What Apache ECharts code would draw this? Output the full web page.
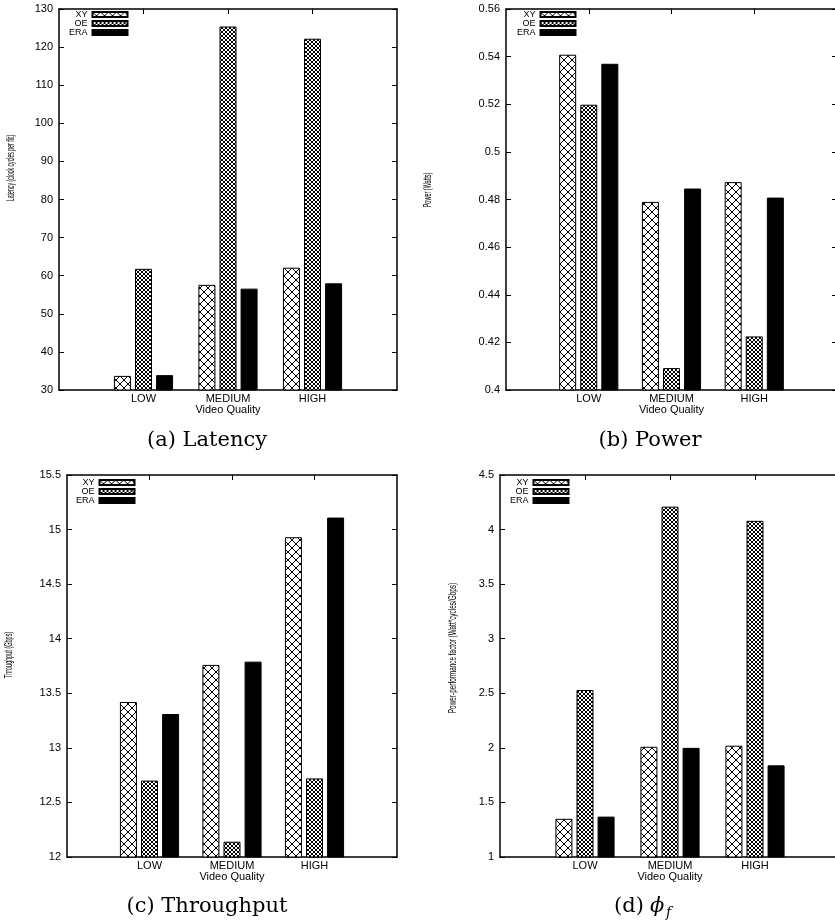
<!DOCTYPE html>
<html>
<head>
<meta charset="utf-8">
<title>Routing comparison by video quality</title>
<script src="https://cdn.jsdelivr.net/npm/echarts/dist/echarts.min.js"></script>
<style>
    html, body {margin: 0; padding: 0; background: #fff;}
    #main {width: 835px; height: 920px;}
</style>
</head>
<body>
<div id="main"></div>
<script>
    var categories = ['LOW', 'MEDIUM', 'HIGH'];
    var seriesNames = ['XY', 'OE', 'ERA'];

    // (a) latency, clock cycles per flit
    var latencyXY = [33.7, 57.6, 62.1];
    var latencyOE = [61.8, 125.4, 122.2];
    var latencyERA = [33.9, 56.6, 58.0];
    var latencyTicks = [30, 130, 10];   // min, max, step

    // (b) power, watts
    var powerXY = [0.5408, 0.4790, 0.4873];
    var powerOE = [0.5198, 0.4092, 0.4225];
    var powerERA = [0.5370, 0.4846, 0.4808];
    var powerTicks = [0.4, 0.56, 0.02];

    // (c) throughput, Gbps
    var throughputXY = [13.42, 13.76, 14.93];
    var throughputOE = [12.70, 12.14, 12.72];
    var throughputERA = [13.31, 13.79, 15.11];
    var throughputTicks = [12, 15.5, 0.5];

    // (d) power-performance factor
    var phiXY = [1.35, 2.01, 2.02];
    var phiOE = [2.53, 4.21, 4.08];
    var phiERA = [1.37, 2.00, 1.84];
    var phiTicks = [1, 4.5, 0.5];

    var sans = '"Liberation Sans", Arial, sans-serif';
    var serif = '"DejaVu Serif", serif';

    // fill patterns for the bars
    function makeTile(w, h, draw) {
        var c = document.createElement('canvas');
        c.width = w;
        c.height = h;
        var ctx = c.getContext('2d');
        ctx.fillStyle = '#fff';
        ctx.fillRect(0, 0, w, h);
        draw(ctx);
        return c;
    }
    var crossTile = makeTile(8, 8, function (ctx) {
        ctx.strokeStyle = '#000';
        ctx.lineWidth = 1;
        ctx.beginPath();
        ctx.moveTo(0, 0); ctx.lineTo(8, 8);
        ctx.moveTo(8, 0); ctx.lineTo(0, 8);
        ctx.stroke();
    });
    // small rings
    var ringTile = makeTile(4, 4, function (ctx) {
        ctx.fillStyle = '#000';
        ctx.fillRect(1, 0, 2, 1);
        ctx.fillRect(0, 1, 1, 2);
        ctx.fillRect(3, 1, 1, 2);
        ctx.fillRect(1, 3, 2, 1);
    });
    var fills = [
        {image: crossTile, repeat: 'repeat'},
        {image: ringTile, repeat: 'repeat'},
        '#000'
    ];

    var panels = [
        {grid: {left: 59, top: 9, width: 338, height: 381}, ticks: latencyTicks,
            values: [latencyXY, latencyOE, latencyERA], legend: {left: 69, top: 10}},
        {grid: {left: 506, top: 9, width: 331, height: 381}, ticks: powerTicks,
            values: [powerXY, powerOE, powerERA], legend: {left: 517, top: 10}},
        {grid: {left: 67, top: 475, width: 330, height: 382}, ticks: throughputTicks,
            values: [throughputXY, throughputOE, throughputERA], legend: {left: 76, top: 478}},
        {grid: {left: 500, top: 475, width: 340, height: 382}, ticks: phiTicks,
            values: [phiXY, phiOE, phiERA], legend: {left: 510, top: 478}}
    ];

    var padded = [''].concat(categories, ['']);
    var tickShown = function (index, value) { return value !== ''; };
    var black = {color: '#000', width: 1.5};

    var option = {
        animation: false,
        textStyle: {fontFamily: sans, color: '#000'},
        grid: [], xAxis: [], yAxis: [], series: [], legend: [], graphic: []
    };

    panels.forEach(function (p, i) {
        var g = p.grid;
        g.outerBoundsMode = 'none';
        g.containLabel = false;
        option.grid.push(g);
        option.xAxis.push({
            type: 'category', gridIndex: i, data: padded, boundaryGap: false, position: 'bottom',
            axisLine: {onZero: false, lineStyle: black},
            axisTick: {inside: true, length: 5, interval: tickShown, lineStyle: {color: '#000'}},
            axisLabel: {interval: 0, color: '#000', fontSize: 11, margin: 3},
            name: 'Video Quality', nameLocation: 'middle', nameGap: 14,
            nameTextStyle: {color: '#000', fontSize: 11}
        });
        option.xAxis.push({
            type: 'category', gridIndex: i, data: padded, boundaryGap: false, position: 'top',
            axisLine: {onZero: false, lineStyle: black},
            axisTick: {inside: true, length: 5, interval: tickShown, lineStyle: {color: '#000'}},
            axisLabel: {show: false}
        });
        option.yAxis.push({
            type: 'value', gridIndex: i, position: 'left',
            min: p.ticks[0], max: p.ticks[1], interval: p.ticks[2],
            axisLine: {show: true, lineStyle: black},
            axisTick: {show: true, inside: true, length: 5, lineStyle: {color: '#000'}},
            axisLabel: {color: '#000', fontSize: 11, margin: 6},
            splitLine: {show: false}
        });
        option.yAxis.push({
            type: 'value', gridIndex: i, position: 'right',
            min: p.ticks[0], max: p.ticks[1], interval: p.ticks[2],
            axisLine: {show: true, lineStyle: black},
            axisTick: {show: true, inside: true, length: 5, lineStyle: {color: '#000'}},
            axisLabel: {show: false},
            splitLine: {show: false}
        });
        seriesNames.forEach(function (name, k) {
            option.series.push({
                name: name, type: 'bar',
                xAxisIndex: i * 2, yAxisIndex: i * 2,
                data: [null].concat(p.values[k], [null]),
                barWidth: 17, barGap: '24%',
                itemStyle: {color: fills[k], borderColor: '#000', borderWidth: 1}
            });
        });
        option.legend.push({
            orient: 'vertical', left: p.legend.left, top: p.legend.top,
            align: 'right', icon: 'rect', itemWidth: 35, itemHeight: 5, itemGap: 0,
            padding: 0, selectedMode: false,
            textStyle: {fontSize: 9, lineHeight: 8.5, color: '#000'},
            data: seriesNames
        });
    });

    // sub-figure captions
    function caption(text, x, y, size, italic) {
        return {
            type: 'text', x: x, y: y, silent: true,
            style: {
                text: text, fill: '#000',
                font: (italic ? 'italic ' : '') + size + 'px ' + serif,
                align: 'left', verticalAlign: 'middle'
            }
        };
    }
    function centred(text, x, y) {
        return {
            type: 'text', x: x, y: y, silent: true,
            style: {text: text, fill: '#000', font: '21px ' + serif, align: 'center', verticalAlign: 'middle'}
        };
    }
    // rotated, squeezed y-axis titles
    function yTitle(text, x, y, squeeze) {
        return {
            type: 'text', x: x, y: y, rotation: Math.PI / 2, scaleX: squeeze, silent: true,
            style: {text: text, fill: '#000', font: '10px ' + sans, align: 'center', verticalAlign: 'middle'}
        };
    }

    option.graphic = [
        centred('(a) Latency', 207, 441),
        centred('(b) Power', 650, 441),
        centred('(c) Throughput', 207, 907),
        caption('(d) ', 614, 907, 21, false),
        caption('\u03D5', 650, 907, 21, true),
        caption('f', 666, 913, 14, true),
        yTitle('Latency (clock cycles per flit)', 11, 168, 0.52),
        yTitle('Power (Watts)', 428, 190, 0.55),
        yTitle('Throughput (Gbps)', 9, 655, 0.55),
        yTitle('Power-performance factor (Watt*cycles/Gbps)', 453, 648, 0.64)
    ];

    var chart = echarts.init(document.getElementById('main'));
    chart.setOption(option);
</script>
</body>
</html>
